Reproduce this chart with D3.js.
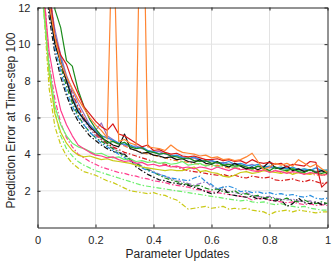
<!DOCTYPE html>
<html>
<head>
<meta charset="utf-8">
<script src="https://cdn.jsdelivr.net/npm/d3@7"></script>
<style>
	body { margin: 0; background: #fff; }
</style>
</head>
<body>
<div id="chart"></div>
<script>
// parameter updates (fraction of training), shared by every run
const updates = [0.02, 0.04, 0.06, 0.08, 0.10, 0.12, 0.14, 0.16, 0.18, 0.20,
	0.22, 0.24, 0.26, 0.28, 0.30, 0.32, 0.34, 0.36, 0.38, 0.40,
	0.42, 0.44, 0.46, 0.48, 0.50, 0.52, 0.54, 0.56, 0.58, 0.60,
	0.62, 0.64, 0.66, 0.68, 0.70, 0.72, 0.74, 0.76, 0.78, 0.80,
	0.82, 0.84, 0.86, 0.88, 0.90, 0.92, 0.94, 0.96, 0.98, 1.00]

const xTicks = [0, 0.2, 0.4, 0.6, 0.8, 1]
const yTicks = [2, 4, 6, 8, 10, 12]

// solid runs
const greenSolid = [20, 16, 11.9, 10.9, 9.1, 8.8, 7.5, 6.6, 5.9, 5.4, 5.0, 4.6, 4.7, 4.55, 4.65, 4.4, 4.3, 4.35, 4.15, 4.1, 4.0, 4.05, 3.9, 3.85, 3.75, 3.8, 3.65, 3.6, 3.65, 3.5, 3.55, 3.4, 3.45, 3.35, 3.4, 3.3, 3.2, 3.35, 3.25, 3.1, 3.3, 3.15, 3.1, 3.2, 3.05, 3.0, 3.15, 3.0, 2.95, 3.05]
const blackSolid = [15, 12.0, 10.0, 9.0, 8.0, 7.0, 6.3, 5.9, 5.5, 5.2, 4.9, 4.7, 4.5, 4.4, 5.1, 4.3, 4.2, 4.05, 4.1, 3.95, 3.9, 3.8, 3.85, 3.7, 3.75, 3.6, 3.55, 3.7, 3.5, 3.45, 3.6, 3.4, 3.3, 3.5, 3.35, 3.2, 3.3, 3.15, 3.3, 3.6, 3.25, 3.2, 3.35, 3.1, 3.2, 3.05, 3.15, 3.0, 3.1, 2.95]
const redSolid = [16, 13, 10.4, 9.4, 8.9, 8.0, 7.3, 6.6, 6.2, 5.8, 5.5, 5.3, 5.65, 5.1, 5.0, 4.8, 4.6, 4.4, 4.5, 4.2, 4.25, 4.1, 4.0, 4.05, 3.9, 3.85, 3.9, 3.8, 3.7, 3.7, 3.75, 3.65, 3.7, 3.6, 3.65, 3.5, 3.7, 3.55, 3.5, 3.55, 3.45, 3.5, 3.3, 3.45, 3.4, 3.35, 3.6, 3.55, 2.2, 2.5]
const orangeSolid = [15, 12.2, 10.4, 9.0, 8.2, 7.6, 7.0, 6.5, 6.0, 5.6, 5.3, 4.9, 17.5, 4.7, 4.8, 4.6, 4.5, 23, 4.4, 4.35, 4.3, 4.2, 4.5, 4.25, 4.1, 4.05, 4.0, 3.9, 3.95, 3.8, 3.85, 3.7, 3.75, 3.65, 3.7, 3.85, 4.05, 3.6, 3.15, 3.3, 3.5, 3.4, 3.5, 3.35, 3.7, 3.5, 3.3, 3.45, 3.2, 3.0]
const blueSolid = [15, 12.5, 10.5, 9.2, 8.1, 7.1, 6.4, 5.9, 5.6, 5.3, 5.0, 4.9, 4.75, 4.6, 4.55, 4.5, 4.35, 4.4, 4.2, 4.15, 4.0, 4.05, 3.9, 3.95, 3.8, 3.75, 3.85, 3.7, 3.6, 3.65, 3.55, 3.5, 3.6, 3.45, 3.5, 3.4, 3.35, 3.45, 3.3, 3.35, 3.25, 3.3, 3.2, 3.3, 3.15, 3.2, 3.1, 3.25, 3.1, 3.15]
const purpleSolid = [16, 12.8, 10.8, 9.4, 8.3, 7.5, 6.8, 6.2, 5.6, 5.3, 5.7, 5.0, 4.8, 4.6, 4.5, 4.4, 4.45, 4.3, 4.2, 4.1, 4.15, 4.0, 3.95, 3.9, 3.85, 3.75, 3.8, 3.65, 3.6, 3.65, 3.5, 3.55, 3.45, 3.5, 3.4, 3.35, 3.45, 3.3, 3.35, 3.25, 3.3, 3.2, 3.25, 3.15, 3.2, 3.1, 3.15, 3.05, 3.1, 3.0]
const pinkSolid = [13, 9.6, 7.8, 6.4, 5.6, 5.0, 4.5, 4.3, 4.1, 3.95, 3.9, 3.8, 3.85, 3.7, 3.6, 3.65, 3.5, 3.55, 3.4, 3.45, 3.35, 3.4, 3.3, 3.35, 3.25, 3.3, 3.2, 3.3, 3.25, 3.15, 3.3, 3.2, 3.1, 3.25, 3.15, 3.2, 3.1, 3.05, 3.15, 3.0, 3.1, 3.05, 2.95, 3.05, 3.0, 2.9, 3.0, 2.95, 2.85, 2.9]
const yellowSolid = [12.5, 8.4, 6.2, 5.2, 4.6, 4.2, 3.95, 3.85, 3.9, 3.8, 3.7, 3.75, 3.65, 3.6, 3.55, 3.5, 3.4, 3.3, 3.25, 3.2, 3.15, 3.1, 3.15, 3.1, 3.1, 3.2, 3.3, 3.05, 3.1, 3.0, 2.95, 2.8, 2.75, 2.85, 3.0, 3.05, 2.95, 3.0, 3.1, 3.05, 3.0, 2.95, 3.05, 2.9, 3.0, 2.95, 2.9, 3.0, 2.85, 2.95]
const lgreenSolid = [12.0, 8.8, 6.6, 5.6, 5.0, 4.6, 4.4, 4.3, 4.15, 4.0, 4.05, 3.9, 3.8, 3.85, 3.7, 3.75, 3.6, 3.65, 3.55, 3.6, 3.5, 3.55, 3.45, 3.5, 3.6, 3.4, 3.45, 3.5, 3.35, 3.45, 3.3, 3.4, 3.35, 3.25, 3.4, 3.3, 3.2, 3.35, 3.25, 3.3, 3.2, 3.3, 3.15, 3.25, 3.1, 3.2, 3.15, 3.05, 3.15, 3.1]

// dash-dot runs
const blackDash = [15, 11.5, 9.5, 8.2, 7.2, 6.4, 5.8, 5.4, 5.0, 4.75, 4.5, 4.3, 4.15, 4.05, 4.0, 3.7, 3.3, 3.1, 2.9, 2.75, 2.6, 2.55, 2.45, 2.4, 2.35, 2.3, 2.2, 2.1, 1.95, 1.85, 1.9, 2.2, 1.8, 1.75, 1.7, 1.65, 1.7, 1.55, 1.6, 1.5, 1.45, 1.5, 1.15, 1.3, 1.6, 1.35, 1.3, 1.4, 1.25, 1.3]
const blueDash = [15, 12.0, 9.8, 8.5, 7.4, 6.6, 6.0, 5.6, 5.2, 4.9, 4.6, 4.4, 4.2, 4.0, 3.8, 3.6, 3.4, 3.25, 3.1, 3.0, 2.9, 2.8, 2.7, 2.65, 2.6, 2.55, 2.7, 2.8, 2.5, 2.35, 2.1, 2.2, 2.25, 2.15, 1.95, 2.0, 1.9, 1.95, 1.85, 1.9, 1.8, 1.85, 1.75, 1.8, 1.7, 1.65, 1.75, 1.6, 1.55, 1.6]
const greenDash = [16, 12.4, 10.2, 8.8, 7.7, 6.8, 6.1, 5.6, 5.2, 4.9, 4.7, 4.5, 4.3, 4.1, 3.9, 3.7, 3.5, 3.3, 3.15, 3.0, 2.85, 2.7, 2.6, 2.5, 2.4, 2.35, 2.25, 2.3, 2.15, 2.05, 2.1, 1.95, 1.9, 2.0, 1.8, 1.85, 1.7, 1.75, 1.6, 1.65, 1.55, 1.5, 1.6, 1.45, 1.4, 1.5, 1.35, 1.3, 1.4, 1.3]
const purpleDash = [16, 12.6, 10.5, 9.0, 7.9, 7.0, 6.3, 5.8, 5.4, 5.0, 4.8, 4.55, 4.35, 4.15, 3.95, 3.75, 3.55, 3.35, 3.2, 3.05, 2.9, 2.8, 2.65, 2.55, 2.5, 2.4, 2.3, 2.4, 2.5, 2.25, 2.1, 2.05, 1.95, 1.9, 1.85, 1.9, 1.75, 1.7, 1.65, 1.7, 1.6, 1.55, 1.5, 1.55, 1.45, 1.4, 1.45, 1.35, 1.3, 1.35]
const redDash = [16, 12.8, 10.6, 9.2, 8.2, 7.3, 6.6, 6.0, 5.5, 5.1, 4.8, 4.6, 4.4, 4.25, 4.1, 4.0, 3.9, 3.8, 3.7, 3.6, 3.5, 3.45, 3.35, 3.3, 3.2, 3.1, 3.05, 3.0, 2.95, 2.9, 2.85, 2.9, 2.8, 2.85, 2.75, 2.7, 2.8, 2.75, 2.7, 2.75, 2.6, 2.55, 2.6, 2.65, 2.55, 2.5, 2.6, 2.5, 2.4, 2.45]
const orangeDash = [15, 12.3, 10.3, 9.0, 8.0, 7.2, 6.5, 6.0, 5.6, 5.3, 5.05, 4.85, 4.7, 4.55, 4.45, 4.3, 4.2, 4.1, 4.0, 3.95, 3.85, 3.8, 3.7, 3.65, 3.6, 3.55, 3.5, 3.45, 3.4, 3.35, 3.4, 3.3, 3.25, 3.3, 3.2, 3.15, 3.2, 3.1, 3.15, 3.05, 3.1, 3.0, 3.05, 2.95, 3.0, 2.9, 2.95, 2.85, 2.9, 2.8]
const pinkDash = [13.5, 9.0, 7.0, 5.7, 4.9, 4.4, 4.0, 3.8, 3.6, 3.45, 3.3, 3.2, 3.1, 3.0, 2.95, 2.85, 2.8, 2.7, 2.65, 2.55, 2.5, 2.45, 2.35, 2.3, 2.25, 2.2, 2.1, 2.05, 2.0, 1.95, 1.9, 1.85, 1.8, 1.75, 1.7, 1.65, 1.5, 1.6, 1.55, 1.5, 1.45, 1.4, 1.35, 1.4, 1.3, 1.25, 1.3, 1.2, 1.25, 1.2]
const lgreenDash = [13, 8.4, 6.3, 5.0, 4.3, 3.9, 3.6, 3.4, 3.25, 3.1, 3.0, 2.9, 2.8, 2.7, 2.6, 2.5, 2.4, 2.3, 2.25, 2.2, 2.15, 2.1, 2.05, 2.0, 1.95, 1.9, 1.85, 1.8, 1.75, 1.7, 1.65, 1.6, 1.55, 1.5, 1.45, 1.5, 1.4, 1.35, 1.4, 1.3, 1.25, 1.3, 1.2, 1.15, 1.1, 1.15, 1.05, 1.0, 0.95, 0.95]
const yellowDash = [12.2, 7.6, 5.5, 4.5, 3.9, 3.5, 3.25, 3.05, 2.95, 2.85, 2.7, 2.55, 2.45, 2.3, 2.15, 2.0, 1.95, 1.9, 1.85, 1.9, 1.8, 1.75, 1.6, 1.5, 1.25, 1.0, 1.05, 1.1, 1.15, 1.05, 1.1, 1.15, 1.0, 1.05, 1.0, 1.05, 0.95, 0.9, 0.85, 0.7, 0.85, 0.9, 0.95, 0.85, 0.95, 0.9, 0.85, 0.8, 0.85, 0.85]

var width = 336, height = 263
var margin = {top: 7.5, right: 8.5, bottom: 35.5, left: 37.5}

const colors = {
	green: '#1c8c1c', black: '#111111', red: '#d91a1a', orange: '#ff8533',
	blue: '#2a8fe0', purple: '#9a70bd', pink: '#ff3d8e', yellow: '#c9c914', lgreen: '#6df06d'
}
const dashDot = '5,2,1.5,2'

// dash-dot first, solid on top
const runs = [
	{values: yellowDash, color: colors.yellow, dash: dashDot},
	{values: lgreenDash, color: colors.lgreen, dash: dashDot},
	{values: pinkDash, color: colors.pink, dash: dashDot},
	{values: purpleDash, color: colors.purple, dash: dashDot},
	{values: greenDash, color: colors.green, dash: dashDot},
	{values: blackDash, color: colors.black, dash: dashDot},
	{values: blueDash, color: colors.blue, dash: dashDot},
	{values: orangeDash, color: colors.orange, dash: dashDot},
	{values: redDash, color: colors.red, dash: dashDot},
	{values: yellowSolid, color: colors.yellow, dash: null},
	{values: lgreenSolid, color: colors.lgreen, dash: null},
	{values: pinkSolid, color: colors.pink, dash: null},
	{values: purpleSolid, color: colors.purple, dash: null},
	{values: blueSolid, color: colors.blue, dash: null},
	{values: blackSolid, color: colors.black, dash: null},
	{values: greenSolid, color: colors.green, dash: null},
	{values: redSolid, color: colors.red, dash: null},
	{values: orangeSolid, color: colors.orange, dash: null}
]

const svg = d3.select('#chart')
	.append('svg')
	.attr('width', width)
	.attr('height', height)
	.style('font-family', '"Liberation Sans", Arial, sans-serif')

const x = d3.scaleLinear().domain([0, 1]).range([margin.left, width - margin.right])
const y = d3.scaleLinear().domain([0, 12]).range([height - margin.bottom, margin.top])

// grid
svg.append('g')
	.selectAll('line.gx')
	.data(xTicks.slice(1, -1))
	.join('line')
	.attr('x1', d => x(d)).attr('x2', d => x(d))
	.attr('y1', y(0)).attr('y2', y(12))
	.attr('stroke', '#e3e3e3')
svg.append('g')
	.selectAll('line.gy')
	.data(yTicks.slice(0, -1))
	.join('line')
	.attr('x1', x(0)).attr('x2', x(1))
	.attr('y1', d => y(d)).attr('y2', d => y(d))
	.attr('stroke', '#e3e3e3')

svg.append('clipPath')
	.attr('id', 'plot-clip')
	.append('rect')
	.attr('x', x(0)).attr('y', y(12))
	.attr('width', x(1) - x(0)).attr('height', y(0) - y(12))

const line = d3.line()
	.x((d, i) => x(updates[i]))
	.y(d => y(d))

svg.append('g')
	.attr('clip-path', 'url(#plot-clip)')
	.selectAll('path')
	.data(runs)
	.join('path')
	.attr('d', d => line(d.values))
	.attr('fill', 'none')
	.attr('stroke', d => d.color)
	.attr('stroke-width', 1.2)
	.attr('stroke-linejoin', 'round')
	.attr('stroke-dasharray', d => d.dash)

// axes, box style with inward ticks on all sides
const fmt = d3.format('~g')
const axisColor = '#262626'

svg.append('g')
	.attr('transform', `translate(0,${y(0)})`)
	.attr('color', axisColor)
	.style('font-size', '11px')
	.call(d3.axisBottom(x).tickValues(xTicks).tickFormat(fmt).tickSize(-3).tickSizeOuter(0).tickPadding(9))
	.call(g => g.selectAll('text').attr('font-family', '"Liberation Sans", Arial, sans-serif'))

svg.append('g')
	.attr('transform', `translate(${x(0)},0)`)
	.attr('color', axisColor)
	.style('font-size', '11px')
	.call(d3.axisLeft(y).tickValues(yTicks).tickSize(-3).tickSizeOuter(0).tickPadding(7))
	.call(g => g.selectAll('text').attr('font-family', '"Liberation Sans", Arial, sans-serif'))

svg.append('g')
	.attr('transform', `translate(0,${y(12)})`)
	.attr('color', axisColor)
	.call(d3.axisTop(x).tickValues(xTicks).tickFormat('').tickSize(-3).tickSizeOuter(0))

svg.append('g')
	.attr('transform', `translate(${x(1)},0)`)
	.attr('color', axisColor)
	.call(d3.axisRight(y).tickValues(yTicks).tickFormat('').tickSize(-3).tickSizeOuter(0))

// labels
svg.append('text')
	.attr('x', (x(0) + x(1)) / 2 - 5)
	.attr('y', 258)
	.attr('text-anchor', 'middle')
	.attr('fill', axisColor)
	.style('font-size', '12px')
	.text('Parameter Updates')

svg.append('text')
	.attr('transform', `translate(14.5,${(y(0) + y(12)) / 2 + 3}) rotate(-90)`)
	.attr('text-anchor', 'middle')
	.attr('fill', axisColor)
	.style('font-size', '12px')
	.text('Prediction Error at Time-step 100')
</script>
</body>
</html>
